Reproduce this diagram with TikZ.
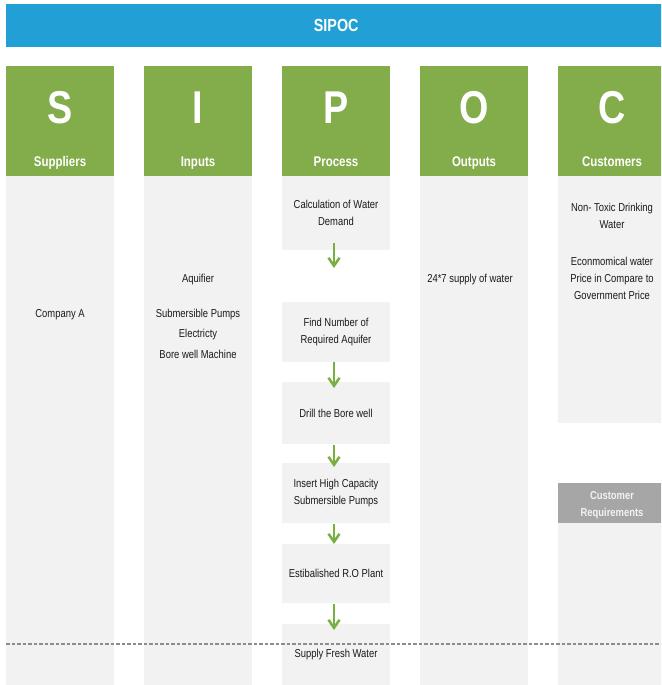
\documentclass[tikz,border=0pt]{standalone}
\usepackage{fontspec}
\setmainfont[FakeStretch=0.82]{Liberation Sans}
\usetikzlibrary{arrows.meta}

\definecolor{titleblue}{HTML}{22A0D6}
\definecolor{hdrgreen}{HTML}{83AC4B}
\definecolor{panel}{HTML}{F2F2F2}
\definecolor{reqgray}{HTML}{A6A6A6}
\definecolor{ink}{HTML}{1A1A1A}
\definecolor{dashgray}{HTML}{8C8C8C}
\definecolor{arrowgreen}{HTML}{79AE40}

\begin{document}
\begin{tikzpicture}[x=1pt,y=-1pt,
  panelbox/.style={fill=panel, draw=none, anchor=north west, minimum width=108pt,
    inner sep=0pt, outer sep=0pt},
  hdr/.style={fill=hdrgreen, draw=none, anchor=north west, minimum width=108pt,
    minimum height=110pt, inner sep=0pt, outer sep=0pt},
  letter/.style={text=white, font=\bfseries\fontsize{46}{46}\selectfont, anchor=base, inner sep=0pt},
  hdrlabel/.style={text=white, font=\bfseries\fontsize{14}{16}\selectfont, anchor=base, inner sep=0pt},
  body/.style={text=ink, font=\fontsize{11.5}{17.5}\selectfont, align=center, inner sep=0pt},
  stepbox/.style={panelbox, body, minimum height=#1},
  flow/.style={draw=arrowgreen, line width=2.5pt, -{Straight Barb[length=8pt,width=11pt]}},
  sepline/.style={draw=dashgray, line width=1.3pt, dash pattern=on 3.5pt off 2pt},
]
\useasboundingbox (0,0) rectangle (661,685);
\clip (0,0) rectangle (661,685);

% title bar
\node[fill=titleblue, anchor=north west, minimum width=660pt, minimum height=43pt,
  inner sep=0pt, text=white, font=\bfseries\fontsize{17.5}{20}\selectfont] (title) at (6,4) {SIPOC};

% column headers
\foreach \cx/\ch/\lab/\nm in {6/S/Suppliers/sup, 144/I/Inputs/inp, 282/P/Process/pro,
                              420/O/Outputs/out, 558/C/Customers/cus} {
  \node[hdr] (h\nm) at (\cx,66) {};
  \node[letter] (l\nm) at (\cx+54,123) {\ch};
  \node[hdrlabel] (t\nm) at (\cx+54,166) {\lab};
}

% column bodies
\node[panelbox, minimum height=509pt] (csup) at (6,176) {};
\node[panelbox, minimum height=509pt] (cinp) at (144,176) {};
\node[panelbox, minimum height=509pt] (cout) at (420,176) {};
\node[panelbox, minimum height=247pt] (ccus) at (558,176) {};
\node[panelbox, minimum height=162pt] (creq) at (558,523) {};
\node[fill=reqgray, anchor=north west, minimum width=108pt, minimum height=40pt, inner sep=0pt,
  outer sep=0pt] (req) at (558,483) {};
\node[text=panel, align=center, anchor=north, inner sep=0pt,
  font=\bfseries\fontsize{11.5}{17}\selectfont] (reqtext) at (612,491)
  {Customer\\Requirements};

% suppliers, inputs, outputs, customers
\node[body, anchor=base] (company) at (60,317) {Company A};
\node[body, anchor=base] (aquifier) at (198,282) {Aquifier};
\node[body, anchor=north, font=\fontsize{11.5}{20.5}\selectfont] (equip) at (198,308.5)
  {Submersible Pumps\\Electricty\\Bore well Machine};
\node[body, anchor=base] (supply) at (470,282) {24*7 supply of water};
\node[body, anchor=north, font=\fontsize{11.5}{17}\selectfont] (need1) at (612,202.5)
  {Non- Toxic Drinking\\Water};
\node[body, anchor=north, font=\fontsize{11.5}{17}\selectfont] (need2) at (612,256.5)
  {Econmomical water\\Price in Compare to\\Government Price};

% process steps
\node[stepbox=74pt] (b1) at (282,176) {Calculation of Water\\Demand};
\node[stepbox=60pt] (b2) at (282,302) {Find Number of\\Required Aquifer};
\node[stepbox=62pt] (b3) at (282,382) {Drill the Bore well};
\node[stepbox=60pt] (b4) at (282,463) {Insert High Capacity\\Submersible Pumps};
\node[stepbox=59pt] (b5) at (282,544) {Estibalished R.O Plant};
\node[stepbox=61pt] (b6) at (282,624) {Supply Fresh Water};

% boundary line
\coordinate (sepL) at (6,644);
\coordinate (sepR) at (666,644);
\draw[sepline] (sepL) -- (sepR);

% process flow
\draw[flow] ([xshift=-2pt,yshift=7pt]b1.south) -- ([xshift=-2pt,yshift=34pt]b2.north);
\draw[flow] ([xshift=-2pt]b2.south) -- ([xshift=-2pt,yshift=-6pt]b3.north);
\draw[flow] ([xshift=-2pt,yshift=-1pt]b3.south) -- ([xshift=-2pt,yshift=-4pt]b4.north);
\draw[flow] ([xshift=-2pt,yshift=-1pt]b4.south) -- ([xshift=-2pt]b5.north);
\draw[flow] ([xshift=-2pt,yshift=-1pt]b5.south) -- ([xshift=-2pt,yshift=-6pt]b6.north);
\end{tikzpicture}
\end{document}
